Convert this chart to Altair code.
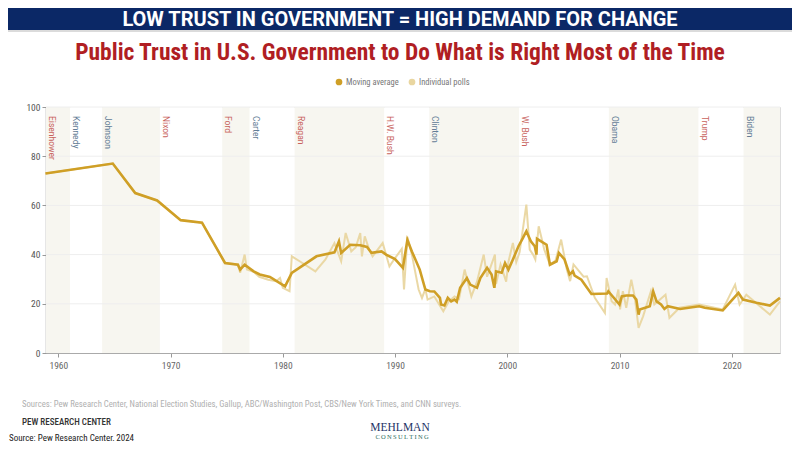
import altair as alt
import pandas as pd

# ---------------- data ----------------
avg_year = [1958.85, 1964.85, 1966.85, 1968.8, 1970.9, 1972.8, 1974.85, 1976.0, 1976.2, 1976.6,
            1977.4, 1977.95, 1978.85, 1980.2, 1980.8, 1983.0, 1984.6, 1985.0, 1985.2, 1986.0,
            1986.9, 1987.5, 1987.9, 1988.8, 1989.2, 1990.0, 1990.7, 1991.1, 1991.5, 1992.2,
            1992.7, 1993.1, 1993.5, 1994.0, 1994.1, 1994.4, 1994.7, 1995.0, 1995.3, 1995.5,
            1995.8, 1996.4, 1996.7, 1997.3, 1997.6, 1998.2, 1998.6, 1998.85, 1999.0, 1999.5,
            1999.8, 2000.1, 2000.5, 2001.0, 2001.4, 2001.7, 2002.1, 2002.45, 2002.6, 2002.65,
            2003.5, 2003.8, 2004.4, 2004.6, 2005.1, 2005.55, 2005.85, 2006.0, 2006.6, 2007.5,
            2008.9, 2009.0, 2010.0, 2010.2, 2010.6, 2011.2, 2011.5, 2011.7, 2011.8, 2012.7,
            2013.0, 2013.3, 2013.7, 2014.0, 2014.3, 2015.4, 2017.1, 2017.6, 2019.2, 2020.6,
            2021.0, 2022.2, 2023.4, 2024.3]
avg_value = [73, 77, 65, 62, 54, 53, 36.6, 35.9, 33.9, 35.9,
             33.2, 31.9, 30.9, 27.1, 32.6, 39.3, 40.9, 45.4, 40.7, 44,
             43.8, 43.1, 40.7, 41.3, 40, 38.2, 34.6, 46, 41.3, 33.9,
             25.8, 25.1, 25, 22.4, 19.7, 19.3, 22.4, 21, 21.7, 20.8,
             26.5, 30.5, 27.8, 26.5, 30.5, 34.6, 31.9, 26.5, 33.2, 32.6,
             36.6, 33.9, 38, 43.4, 46.8, 49.5, 45.4, 43.4, 40, 46.4,
             44, 35.9, 37.3, 40.7, 38, 31.9, 33.2, 31.5, 29.8, 24,
             24.2, 25.1, 19.7, 23, 23.4, 23.4, 21.7, 15.6, 17.7, 19,
             25.1, 21, 19.7, 17.9, 19, 17.9, 19, 18.4, 17.3, 24.4,
             21.7, 20.4, 19.3, 22.4]

poll_year = [1958.85, 1964.85, 1966.85, 1968.8, 1970.9, 1972.8, 1974.85, 1976.0, 1976.2, 1976.6,
             1976.8, 1977.4, 1977.9, 1978.7, 1979.4, 1979.75, 1980.0, 1980.6, 1980.8, 1981.5,
             1982.9, 1983.8, 1984.6, 1985.2, 1985.6, 1986.1, 1986.5, 1986.9, 1987.05, 1987.3,
             1987.7, 1988.0, 1988.9, 1989.5, 1990.0, 1990.6, 1990.8, 1991.1, 1991.5, 1992.1,
             1992.4, 1992.7, 1992.9, 1993.5, 1994.3, 1994.8, 1995.3, 1995.7, 1996.2, 1996.8,
             1997.3, 1997.9, 1998.2, 1998.9, 1999.0, 1999.4, 1999.9, 2000.1, 2000.5, 2000.8,
             2001.1, 2001.7, 2002.0, 2002.3, 2002.5, 2002.8, 2003.3, 2003.8, 2004.3, 2004.8,
             2005.3, 2005.6, 2005.9, 2006.8, 2007.1, 2007.8, 2008.7, 2008.85, 2009.3, 2009.6,
             2009.9, 2010.05, 2010.3, 2010.6, 2011.05, 2011.35, 2011.7, 2012.1, 2012.8, 2013.1,
             2014.1, 2014.45, 2015.35, 2017.1, 2019.2, 2020.3, 2020.7, 2021.3, 2023.4, 2024.3]
poll_value = [73, 77, 65, 62, 54, 53, 36.6, 36, 32.6, 40,
              33.9, 33, 31, 29.8, 29.2, 30.5, 26.5, 25.1, 39.3, 37.3,
              33.2, 38, 44.7, 37.3, 48.8, 41.3, 43, 48.8, 39.3, 47.4,
              42, 39.3, 44.7, 35.2, 38.6, 42.3, 25.8, 47.2, 40, 25.8,
              22.4, 26, 21.7, 23, 17, 21, 23, 22, 33.9, 23,
              29, 40, 31, 40, 28, 36, 29, 37, 44.7, 37,
              41, 60.3, 42, 40, 38, 51.5, 42, 35.9, 37.6, 46.1,
              34, 29.2, 36, 31, 31.2, 22.4, 16.3, 30.5, 21, 19.7,
              25.8, 17.7, 25.1, 18.4, 29.8, 23, 10.2, 14.9, 25.1, 19.7,
              23.7, 14.3, 18.4, 19.7, 17.7, 27.8, 19.7, 23.7, 15.6, 21]

pres_name = ["Eisenhower", "Kennedy", "Johnson", "Nixon", "Ford", "Carter", "Reagan",
             "H.W. Bush", "Clinton", "W. Bush", "Obama", "Trump", "Biden"]
pres_start = [1958.9, 1961.05, 1963.9, 1969.05, 1974.6, 1977.05, 1981.05,
              1989.05, 1993.05, 2001.05, 2009.05, 2017.05, 2021.05]
pres_end = [1961.05, 1963.9, 1969.05, 1974.6, 1977.05, 1981.05, 1989.05,
            1993.05, 2001.05, 2009.05, 2017.05, 2021.05, 2024.3]
pres_party = ["R", "D", "D", "R", "R", "D", "R", "R", "D", "R", "D", "R", "D"]

x_ticks = [1960, 1970, 1980, 1990, 2000, 2010, 2020]
y_ticks = [0, 20, 40, 60, 80, 100]
grid_values = [20, 40, 60, 80, 100]

HEADLINE = "LOW TRUST IN GOVERNMENT = HIGH DEMAND FOR CHANGE"
TITLE = "Public Trust in U.S. Government to Do What is Right Most of the Time"
SOURCES = ("Sources: Pew Research Center, National Election Studies, Gallup, "
           "ABC/Washington Post, CBS/New York Times, and CNN surveys.")

# ---------------- frames ----------------
avg_df = pd.DataFrame({"year": avg_year, "value": avg_value})
poll_df = pd.DataFrame({"year": poll_year, "value": poll_value})
pres_df = pd.DataFrame({"name": pres_name, "start": pres_start, "end": pres_end,
                        "party": pres_party,
                        "idx": list(range(len(pres_name)))})
grid_df = pd.DataFrame({"v": grid_values})
one = pd.DataFrame({"k": [0]})

W, H = 734, 246
NARROW = "'Liberation Sans Narrow', 'Roboto Condensed', 'Arial Narrow', Roboto, sans-serif"
SERIF = "'Liberation Serif', 'DejaVu Serif', serif"
GOLD = "#cf9f26"
LIGHT = "#e9d6a0"

xs = alt.Scale(domain=[1958.9, 2024.3], nice=False, zero=False)
ys = alt.Scale(domain=[0, 100], nice=False)

bands = alt.Chart(pres_df).mark_rect().encode(
    x=alt.X("start:Q", scale=xs, axis=alt.Axis(values=x_ticks, format="d", title=None, grid=False,
                                               labelFont=NARROW, labelFontSize=9.5, labelColor="#666",
                                               tickColor="#999", domainColor="#aaa", tickSize=4,
                                               labelPadding=3)),
    x2="end:Q",
    y=alt.value(0), y2=alt.value(H),
    color=alt.condition("datum.idx % 2 == 0", alt.value("#f7f6f0"), alt.value("#ffffff")),
)

grid = alt.Chart(grid_df).mark_rule(color="#eeeeee", strokeWidth=1).encode(
    y=alt.Y("v:Q", scale=ys, axis=alt.Axis(values=y_ticks, title=None, grid=False,
                                           labelFont=NARROW, labelFontSize=9.5, labelColor="#555",
                                           tickColor="#999", domainColor="#999", domainWidth=1.5,
                                           tickSize=4, labelPadding=2)),
)

labels = alt.Chart(pres_df).mark_text(angle=90, align="left", baseline="middle", dy=-6,
                                      fontSize=8.5, font="Roboto, 'DejaVu Sans', sans-serif").encode(
    x=alt.X("start:Q", scale=xs),
    y=alt.value(9),
    text="name:N",
    color=alt.condition("datum.party == 'R'", alt.value("#c8625c"), alt.value("#647d96")),
)

polls = alt.Chart(poll_df).mark_line(color=LIGHT, strokeWidth=2, opacity=0.95).encode(
    x=alt.X("year:Q", scale=xs), y=alt.Y("value:Q", scale=ys))

avg = alt.Chart(avg_df).mark_line(color=GOLD, strokeWidth=2.6).encode(
    x=alt.X("year:Q", scale=xs), y=alt.Y("value:Q", scale=ys))

# ---------------- decorations (page px = value + 46 / +107) ----------------
banner = alt.Chart(one).mark_rect(color="#0b2866").encode(
    x=alt.value(-38), x2=alt.value(W + 12), y=alt.value(-99), y2=alt.value(-77))
banner_line = alt.Chart(one).mark_rule(color="#cfcfcf", strokeWidth=1.5).encode(
    x=alt.value(-38), x2=alt.value(W + 12), y=alt.value(-76))
headline = alt.Chart(one).mark_text(font="Roboto, 'Liberation Sans', sans-serif", fontSize=20,
                                    fontWeight="bold", color="white",
                                    align="center", baseline="middle").encode(
    x=alt.value(354), y=alt.value(-87.5), text=alt.value(HEADLINE))
title = alt.Chart(one).mark_text(font=NARROW, fontSize=23.5, fontWeight="bold", color="#b01e23",
                                 align="center", baseline="middle").encode(
    x=alt.value(354), y=alt.value(-54), text=alt.value(TITLE))

leg_dots = alt.Chart(pd.DataFrame({"c": [GOLD, LIGHT], "px": [293, 366]})).mark_circle(
    size=45, opacity=1).encode(
    x=alt.X("px:Q", scale=None), y=alt.value(-25), color=alt.Color("c:N", scale=None))
leg_text = alt.Chart(pd.DataFrame({"t": ["Moving average", "Individual polls"], "px": [300, 373]})).mark_text(
    font=NARROW, fontSize=8.5, color="#777", align="left", baseline="middle").encode(
    x=alt.X("px:Q", scale=None), y=alt.value(-25), text="t:N")

sources = alt.Chart(one).mark_text(font=NARROW, fontSize=8.7, color="#b0b0b0", align="left",
                                   baseline="middle").encode(
    x=alt.value(-24), y=alt.value(297), text=alt.value(SOURCES))
pew = alt.Chart(one).mark_text(font=NARROW, fontSize=9, fontWeight=500, color="#333", align="left",
                               baseline="middle").encode(
    x=alt.value(-24), y=alt.value(314.5), text=alt.value("PEW RESEARCH CENTER"))
src = alt.Chart(one).mark_text(font=NARROW, fontSize=9, color="#222", align="left",
                               baseline="middle").encode(
    x=alt.value(-37), y=alt.value(330.5), text=alt.value("Source: Pew Research Center, 2024"))
src_ul = alt.Chart(one).mark_rule(color="#3a5a7a", strokeWidth=0.8).encode(
    x=alt.value(-9), x2=alt.value(56), y=alt.value(336))
mehl = alt.Chart(one).mark_text(font=SERIF, fontSize=11.5, color="#1d3366",
                                align="center", baseline="middle").encode(
    x=alt.value(354), y=alt.value(320.5), text=alt.value("MEHLMAN"))
cons = alt.Chart(one).mark_text(font=SERIF, fontSize=6.5, color="#2d6b5a",
                                align="center", baseline="middle").encode(
    x=alt.value(356), y=alt.value(330), text=alt.value("C\u2009O\u2009N\u2009S\u2009U\u2009L\u2009T\u2009I\u2009N\u2009G"))

chart = alt.layer(
    bands, grid, labels, polls, avg,
    banner, banner_line, headline, title, leg_dots, leg_text,
    sources, pew, src, src_ul, mehl, cons,
).properties(
    width=W, height=H,
    autosize=alt.AutoSizeParams(type="none"),
    padding={"left": 38, "top": 99, "right": 12, "bottom": 88},
).configure_view(stroke=None).configure(background="white")

chart.save("out.html", embed_options={"renderer": "svg", "actions": False})
